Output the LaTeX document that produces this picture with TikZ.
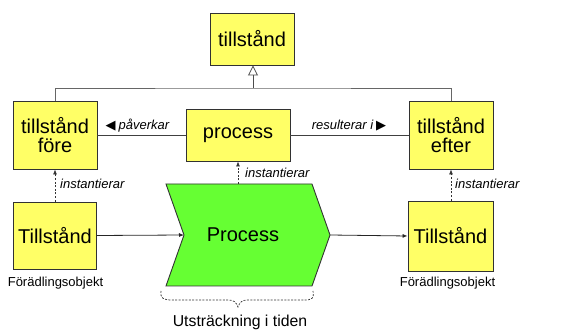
\documentclass[tikz,border=0pt]{standalone}
\usepackage{fontspec}
\setmainfont{Liberation Sans}
\newfontfamily\symfont{DejaVu Sans}
\usetikzlibrary{arrows.meta}
\definecolor{boxyellow}{RGB}{255,255,102}
\definecolor{procgreen}{RGB}{102,255,51}
\definecolor{edgegray}{RGB}{50,50,50}
\begin{document}
\begin{tikzpicture}[x=1pt,y=-1pt,
  ybox/.style={draw=edgegray,line width=0.9pt,fill=boxyellow,rectangle,inner sep=0pt,
    align=center,font=\fontsize{20}{22}\selectfont},
  conn/.style={draw=black!75,line width=0.8pt},
  inst/.style={draw=black!80,line width=0.7pt,dash pattern=on 2pt off 1.6pt,
    -{Latex[length=5pt,width=4pt]}},
  flow/.style={draw=black!85,line width=0.8pt,-{Latex[length=5pt,width=4pt]}},
  lbl/.style={font=\fontsize{13}{15}\selectfont\itshape,inner sep=0pt},
  captext/.style={font=\fontsize{13}{15}\selectfont,inner sep=0pt}]
\useasboundingbox (0,0) rectangle (574,331);

% concept level
\node[ybox,minimum width=84,minimum height=52] (top) at (252,39) {tillstånd};
\node[ybox,minimum width=84,minimum height=68] (before) at (55,135) {tillstånd\\[-3pt]före};
\node[ybox,minimum width=104,minimum height=52] (proc) at (238,135) {process};
\node[ybox,minimum width=84,minimum height=68] (after) at (451,135) {tillstånd\\[-3pt]efter};

% generalisation tree
\coordinate (hub) at (253,88);
\draw[conn,draw=black!60] (before.north) |- (hub) -| (after.north);
\draw[conn,draw=black!70,-{Triangle[open,length=10pt,width=10pt]}] (hub) -- (top.south -| hub);

% associations
\draw[conn] (before.east) -- (proc.west);
\draw[conn] (proc.east) -- (after.west);
\node[lbl] (lpav) at (137.5,126) {{\symfont\upshape ◀}\kern3pt påverkar};
\node[lbl] (lres) at (349,126) {resulterar i\kern3pt{\symfont\upshape ▶}};

% instance level
\node[ybox,minimum width=83,minimum height=67] (tl) at (55,235.5) {Tillstånd};
\node[ybox,minimum width=85,minimum height=70] (tr) at (450.5,236) {Tillstånd};
\node[captext] (fl) at (55.5,283) {Förädlingsobjekt};
\node[captext] (fr) at (447.5,283) {Förädlingsobjekt};

% process chevron
\coordinate (notch) at (184,235);
\coordinate (tip) at (330,235);
\coordinate (chevtop) at (238,184);
\draw[draw=edgegray,line width=0.9pt,fill=procgreen]
  (166,184) -- (312,184) -- (tip) -- (312,286) -- (166,286) -- (notch) -- cycle;
\node[font=\fontsize{20}{22}\selectfont,inner sep=0pt] (ptext) at (243,235) {Process};

% flow through the process
\draw[flow] (tl.east) -- (notch);
\draw[flow] (tip) -- (tr.west);

% instantiation
\draw[inst] (tl.north) -- (before.south);
\draw[inst] (chevtop) -- (proc.south -| chevtop);
\draw[inst] (tr.north -| after) -- (after.south);
\node[lbl,anchor=west] (i1) at (60,184) {instantierar};
\node[lbl,anchor=west] (i2) at (245,173) {instantierar};
\node[lbl,anchor=west] (i3) at (455,184) {instantierar};

% time extent brace
\coordinate (bl) at (161,291);
\coordinate (br) at (313,291);
\coordinate (bt) at (238,307);
\draw[black!80,line width=0.7pt,dash pattern=on 2pt off 1.4pt]
  (bl) .. controls (160,298) and (163,300) .. (172,300)
  -- (228,300) .. controls (234,300) and (236,302) .. (bt)
  .. controls (240,302) and (242,300) .. (248,300)
  -- (304,300) .. controls (313,300) and (314,298) .. (br);
\node[font=\fontsize{15.8}{17}\selectfont,inner sep=0pt] (ext) at (240,322) {Utsträckning i tiden};
\end{tikzpicture}
\end{document}
